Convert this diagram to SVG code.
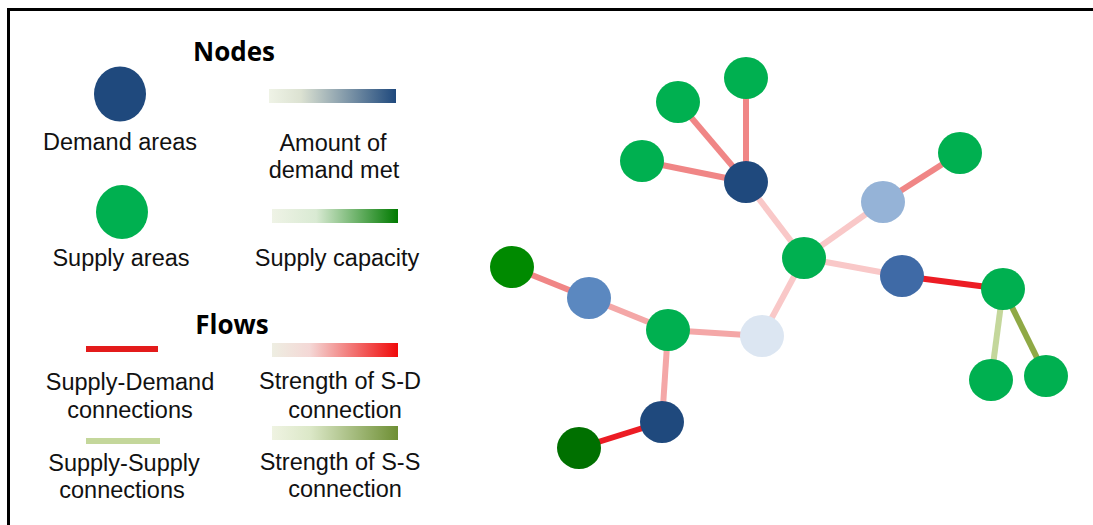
<svg xmlns="http://www.w3.org/2000/svg" width="1093" height="525" viewBox="0 0 1093 525">
<style>
.t{font-family:"Liberation Sans",Arial,sans-serif;font-size:23.5px;fill:#111;text-anchor:middle}
.h{font-family:"Open Sans","Liberation Sans",sans-serif;font-weight:bold;font-size:26px;fill:#000;text-anchor:middle}
.e{stroke-width:6;stroke-linecap:butt;fill:none}
.sd1{stroke:#F08686}
.sd2{stroke:#F9C8C8}
.sd3{stroke:#F4A7A7}
.sdr{stroke:#EC1C24}
.ss1{stroke:#C4D79B}
.ss2{stroke:#8FA945}
.g{fill:#00B050}
.db{fill:#1F497D}
</style>
<defs>
<linearGradient id="gBlue" x1="0" x2="1" y1="0" y2="0"><stop offset="0" stop-color="#EFF3E6"/><stop offset="0.25" stop-color="#DCE2D2"/><stop offset="1" stop-color="#1F497D"/></linearGradient>
<linearGradient id="gGreen" x1="0" x2="1" y1="0" y2="0"><stop offset="0" stop-color="#EFF3E6"/><stop offset="0.35" stop-color="#D9EAD3"/><stop offset="1" stop-color="#007A00"/></linearGradient>
<linearGradient id="gRed" x1="0" x2="1" y1="0" y2="0"><stop offset="0" stop-color="#EEEEE2"/><stop offset="0.3" stop-color="#F4D8D6"/><stop offset="1" stop-color="#F00A0A"/></linearGradient>
<linearGradient id="gOlive" x1="0" x2="1" y1="0" y2="0"><stop offset="0" stop-color="#EFF3E2"/><stop offset="0.3" stop-color="#DCE8C8"/><stop offset="1" stop-color="#6E8F34"/></linearGradient>
</defs>
<rect width="1093" height="525" fill="#fff"/>
<path d="M8.5,525 V9.5 H1093" fill="none" stroke="#000" stroke-width="3"/>

<g id="legend">
<text class="h" x="234" y="61">Nodes</text>
<ellipse class="db" cx="120" cy="94" rx="26" ry="27.5"/>
<text class="t" x="120" y="150">Demand areas</text>
<rect x="269" y="89" width="127" height="14" fill="url(#gBlue)"/>
<text class="t" x="333" y="151">Amount of</text>
<text class="t" x="334" y="178">demand met</text>
<ellipse class="g" cx="122" cy="212" rx="26" ry="27"/>
<text class="t" x="121" y="266">Supply areas</text>
<rect x="272" y="209" width="126" height="14" fill="url(#gGreen)"/>
<text class="t" x="337" y="266">Supply capacity</text>

<text class="h" x="232" y="334">Flows</text>
<line x1="86" y1="349" x2="158" y2="349" stroke="#E31B1B" stroke-width="6"/>
<text class="t" x="130" y="390">Supply-Demand</text>
<text class="t" x="130" y="418">connections</text>
<rect x="272" y="343" width="126" height="14" fill="url(#gRed)"/>
<text class="t" x="340" y="389">Strength of S-D</text>
<text class="t" x="345" y="418">connection</text>
<line x1="86" y1="441" x2="160" y2="441" stroke="#C4D79B" stroke-width="6"/>
<text class="t" x="124" y="471">Supply-Supply</text>
<text class="t" x="122" y="498">connections</text>
<rect x="272" y="426" width="126" height="14" fill="url(#gOlive)"/>
<text class="t" x="340" y="470">Strength of S-S</text>
<text class="t" x="345" y="497">connection</text>
</g>

<g id="connectors">
<line class="e sd1" x1="746" y1="182" x2="746" y2="78"/>
<line class="e sd1" x1="746" y1="182" x2="678" y2="102"/>
<line class="e sd1" x1="746" y1="182" x2="642" y2="161"/>
<line class="e sd2" x1="746" y1="182" x2="804" y2="258"/>
<line class="e sd2" x1="804" y1="258" x2="883" y2="202"/>
<line class="e sd1" x1="883" y1="202" x2="960" y2="153"/>
<line class="e sd2" x1="804" y1="258" x2="902" y2="276"/>
<line class="e sdr" x1="902" y1="276" x2="1003" y2="289"/>
<line class="e ss1" x1="1003" y1="289" x2="991" y2="380"/>
<line class="e ss2" x1="1003" y1="289" x2="1046" y2="376"/>
<line class="e sd2" x1="804" y1="258" x2="762" y2="336"/>
<line class="e sd3" x1="762" y1="336" x2="668" y2="330"/>
<line class="e sd3" x1="668" y1="330" x2="589" y2="298"/>
<line class="e sd1" x1="589" y1="298" x2="512" y2="267"/>
<line class="e sd3" x1="668" y1="330" x2="662" y2="422"/>
<line class="e sdr" x1="662" y1="422" x2="579" y2="448"/>
</g>

<g id="n1"><ellipse class="g" cx="746" cy="78" rx="22" ry="21"/></g>
<g id="n2"><ellipse class="g" cx="678" cy="102" rx="22" ry="21"/></g>
<g id="n3"><ellipse class="g" cx="642" cy="161" rx="22" ry="21"/></g>
<g id="n4"><ellipse class="db" cx="746" cy="182" rx="22" ry="21"/></g>
<g id="n5"><ellipse class="g" cx="804" cy="258" rx="22" ry="21"/></g>
<g id="n6"><ellipse fill="#95B3D7" cx="883" cy="202" rx="22" ry="21"/></g>
<g id="n7"><ellipse class="g" cx="960" cy="153" rx="22" ry="21"/></g>
<g id="n8"><ellipse fill="#3F6AA6" cx="902" cy="276" rx="22" ry="21"/></g>
<g id="n9"><ellipse class="g" cx="1003" cy="289" rx="22" ry="21"/></g>
<g id="n10"><ellipse class="g" cx="991" cy="380" rx="22" ry="21"/></g>
<g id="n11"><ellipse class="g" cx="1046" cy="376" rx="22" ry="21"/></g>
<g id="n12"><ellipse fill="#DCE6F2" cx="762" cy="336" rx="22" ry="21"/></g>
<g id="n13"><ellipse class="g" cx="668" cy="330" rx="22" ry="21"/></g>
<g id="n14"><ellipse fill="#5B88C0" cx="589" cy="298" rx="22" ry="21"/></g>
<g id="n15"><ellipse fill="#008A00" cx="512" cy="267" rx="22" ry="21"/></g>
<g id="n16"><ellipse class="db" cx="662" cy="422" rx="22" ry="21"/></g>
<g id="n17"><ellipse fill="#007000" cx="579" cy="448" rx="22" ry="21"/></g>
</svg>
